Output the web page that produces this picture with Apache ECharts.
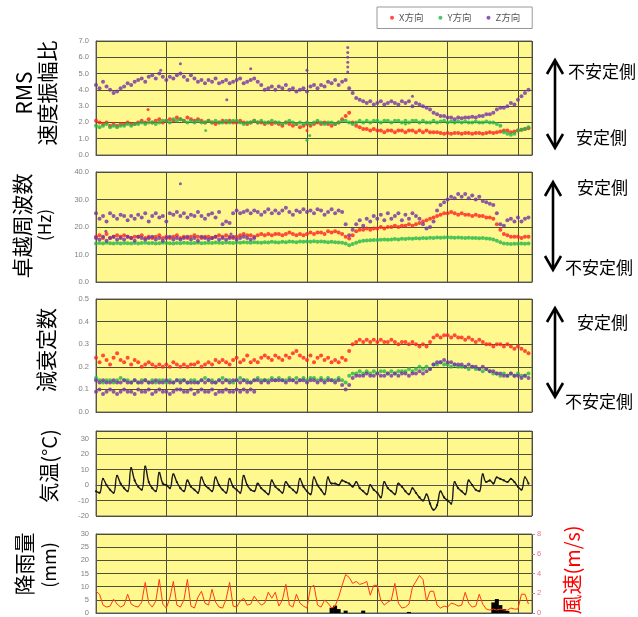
<!DOCTYPE html>
<html><head><meta charset="utf-8">
<script src="https://cdn.jsdelivr.net/npm/echarts@6.0.0/dist/echarts.min.js"></script>
<style>html,body{margin:0;padding:0;background:#fff}#c{width:638px;height:617px}</style>
</head><body><div id="c"></div>
<script>
// 4 samples per day, 31 days (index i -> day i/4)
const seriesNames = ['X方向', 'Y方向', 'Z方向'];

const rmsX = [
2.1,2.0,1.9,2.0, 1.8,1.9,1.8,1.9, 1.9,2.0,1.9,1.9, 2.0,2.1,2.0,2.2, 2.0,2.1,2.2,2.0,
2.1,2.2,2.1,2.3, 2.2,2.1,2.3,2.2, 2.1,2.2,2.1,2.0, 2.1,2.0,1.9,2.0, 2.1,2.0,2.1,2.0,
2.0,2.1,2.0,1.9, 2.0,2.1,2.0,2.0, 1.9,2.0,1.9,2.0, 1.9,1.8,2.0,1.9, 1.8,1.9,1.7,1.8,
1.9,1.8,1.9,2.0, 1.9,2.0,1.9,1.8, 1.9,2.0,2.2,2.4, 2.6,2.0,1.8,1.7, 1.6,1.6,1.5,1.6,
1.5,1.5,1.4,1.5, 1.5,1.4,1.5,1.5, 1.4,1.5,1.5,1.4, 1.5,1.4,1.5,1.4, 1.4,1.4,1.35,1.3,
1.35,1.3,1.35,1.35, 1.3,1.35,1.35,1.3, 1.35,1.35,1.3,1.35, 1.4,1.35,1.4,1.45, 1.5,1.5,1.4,1.45,
1.5,1.55,1.6,1.65];
const rmsY = [
1.8,1.7,1.8,1.9, 1.7,1.8,1.7,1.8, 1.8,1.9,1.8,1.9, 1.9,2.0,1.9,2.0, 2.0,1.9,2.0,2.1,
2.1,2.0,2.2,2.1, 2.2,2.1,2.0,2.1, 2.0,2.1,2.0,2.0, 2.1,2.0,2.1,2.0, 2.0,2.1,2.0,2.1,
2.1,2.0,1.9,2.0, 2.0,2.1,2.0,2.1, 2.0,2.0,2.1,2.0, 2.0,1.9,2.0,2.1, 2.0,1.9,2.0,1.9,
2.0,1.9,2.0,2.1, 2.0,1.9,2.0,2.0, 1.9,2.0,2.1,2.1, 2.0,1.9,2.0,2.1, 2.0,2.1,2.0,2.1,
2.1,2.0,2.1,2.1, 2.0,2.1,2.1,2.0, 2.1,2.0,2.1,2.1, 2.0,2.1,2.0,2.0, 2.1,2.0,2.05,2.1,
2.0,2.05,2.0,2.05, 2.0,2.05,2.0,2.0, 2.05,2.0,2.0,2.05, 2.0,2.0,1.9,1.8, 1.4,1.3,1.25,1.3,
1.5,1.55,1.6,1.7];
const rmsZ = [
4.3,4.1,4.5,4.2, 4.0,3.8,3.9,4.1, 4.2,4.4,4.3,4.5, 4.6,4.7,4.5,4.8, 4.9,4.7,5.0,4.8,
4.6,4.8,4.7,4.9, 5.0,4.8,4.6,4.9, 4.7,4.5,4.6,4.4, 4.6,4.5,4.7,4.4, 4.5,4.6,4.4,4.5,
4.6,4.7,4.4,4.5, 4.6,4.7,4.5,4.3, 4.0,4.1,4.2,4.0, 4.2,4.1,4.3,4.0, 4.1,3.9,4.0,4.1,
3.9,4.2,4.3,4.1, 4.3,4.2,4.5,4.4, 4.6,4.3,4.5,4.6, 4.1,3.8,3.5,3.4, 3.3,3.2,3.3,3.1,
3.2,3.3,3.1,3.2, 3.3,3.2,3.1,3.3, 3.2,3.3,3.0,3.2, 3.1,3.0,2.9,2.8, 2.6,2.5,2.4,2.4,
2.3,2.3,2.2,2.3, 2.25,2.3,2.3,2.35, 2.3,2.4,2.4,2.5, 2.5,2.6,2.8,2.9, 2.9,3.0,3.2,3.1,
3.4,3.6,3.8,4.0];
const rmsZExtra = [[15,5.2],[17.9,6.6],[17.9,6.3],[17.9,6.0],[17.9,5.7],[17.9,5.4],[17.9,5.1],[6.0,5.6],[9.3,3.4],[22.5,3.6],[11,5.3],[4.6,5.2]];
const rmsXExtra = [[3.7,2.8],[15,1.5]];
const rmsYExtra = [[15,0.9],[7.8,1.5],[15.2,1.2],[22,1.9]];

const freqX = [
16.5,17,16,17.5, 16,16.5,17,16.5, 17,16.5,16,16.5, 16.5,17,16,16.5, 16,16.5,17,16,
16.5,16,16.5,17, 16,16.5,16,16.5, 17,16.5,16,16.5, 16.5,16,16.5,17, 16.5,17,16.5,16,
16.5,17,17.5,17, 17,16.5,17,17.5, 17,17.5,17,17.5, 17.5,17,17.5,18, 17.5,17,17.5,17,
17.5,18,17.5,18, 18,17.5,18.5,18, 18.5,18,17.5,16.5, 15.8,17,18.5,19, 19,19.5,19,19.5,
19.5,20,19.5,20, 20,20.5,20,20.5, 20.5,21,20.5,21, 21.5,22,22.5,23, 23.5,24,24.5,25,
25,25.5,25,24.5, 25,24.5,24.5,24, 24.5,24,24,23.5, 23.5,23,21,19, 17.5,17,16.5,16.5,
16.5,16,16.5,16.5];
const freqY = [
14,14.2,14,14.3, 14.1,14,14.2,14, 14.2,14.1,14,14.2, 14,14.2,14.3,14.1, 14.2,14,14.1,14.3,
14.2,14.1,14,14.2, 14.1,14.3,14.2,14.1, 14.2,14.3,14.1,14.2, 14.3,14.2,14.4,14.3, 14.2,14.4,14.3,14.2,
14.4,14.3,14.5,14.4, 14.3,14.5,14.4,14.3, 14.5,14.4,14.6,14.5, 14.4,14.6,14.5,14.7, 14.6,14.5,14.7,14.6,
14.7,14.6,14.8,14.6, 14.7,14.6,14.5,14.6, 14.5,14.4,14.3,14.0, 13.4,13.8,14.3,14.7, 15.0,15.1,15.2,15.3,
15.3,15.4,15.5,15.4, 15.5,15.6,15.5,15.7, 15.6,15.8,15.7,15.9, 15.8,16.0,15.9,16.1, 16.0,16.2,16.1,16.2,
16.3,16.2,16.1,16.2, 16.1,16.0,16.1,16.0, 16.0,15.9,16.0,15.8, 15.7,15.5,15.0,14.5, 14.0,13.9,13.8,13.9,
13.9,14.0,13.9,14.0];
const freqZ = [
25,23,24,22, 25,24,23,24.5, 24,22.5,24,23, 24.5,23.5,25,22, 24,25,23.5,24,
22,25,24.5,25.5, 24,25,23.5,24.5, 24,25.5,24,23, 24.5,25,23.5,25.5, 21,22,21.5,25,
26,25,25.5,26, 25,26,25.5,24.5, 25.5,26.5,25,26, 25,26,27,25.5, 24.5,26,25.5,26.5,
25.5,26,25,26.5, 26,24.5,25.5,26.5, 25,26,25.5,21, 17,19,21,22.5, 20.5,23,22,24,
23,24.5,22.5,25, 23,24,25,22.5, 24.5,23,25,24, 23,21,19.5,20, 22,26,28,29,
30,31,30.5,32, 31,32,30.5,31.5, 30,31,29.5,29, 28.5,28,25,21, 20.5,22.5,23,22,
23.5,22,23,23.5];
// lower Z band (days 0 - 11.25)
const freqZLow = [16,15.5,16.5,15, 16,16.5,15.5,16, 15.5,16.5,16,15, 16.5,16,15.5,16, 16.5,15.5,16,15,
16,16.5,15.5,16, 15.5,16,16.5,15.5, 16,15,16.5,16, 15.5,16,16.5,15.5, 16,15.5,16,16.5, 15.5,16,16.5,16, 15.5,16];
const freqZExtra = [[6.0,35.7],[0.7,18.5],[9.6,17.5]];

const dampX = [
0.24,0.22,0.25,0.23, 0.21,0.24,0.26,0.23, 0.22,0.24,0.21,0.23, 0.22,0.20,0.21,0.22, 0.21,0.20,0.21,0.20,
0.21,0.20,0.22,0.21, 0.20,0.21,0.20,0.21, 0.21,0.22,0.20,0.21, 0.22,0.21,0.23,0.22, 0.23,0.22,0.21,0.23,
0.24,0.22,0.23,0.25, 0.22,0.23,0.22,0.24, 0.25,0.24,0.23,0.25, 0.24,0.23,0.25,0.24, 0.26,0.27,0.25,0.24,
0.23,0.25,0.22,0.24, 0.25,0.23,0.24,0.22, 0.23,0.22,0.24,0.23, 0.27,0.30,0.31,0.32, 0.31,0.32,0.31,0.32,
0.31,0.32,0.31,0.31, 0.32,0.31,0.30,0.31, 0.31,0.30,0.31,0.30, 0.29,0.30,0.29,0.31, 0.33,0.34,0.33,0.34,
0.34,0.33,0.34,0.33, 0.33,0.32,0.33,0.32, 0.31,0.32,0.31,0.30, 0.30,0.29,0.30,0.30, 0.29,0.30,0.29,0.28,
0.29,0.28,0.27,0.26];
const dampY = [
0.15,0.14,0.13,0.14, 0.14,0.13,0.14,0.15, 0.14,0.14,0.13,0.14, 0.13,0.14,0.14,0.13, 0.14,0.13,0.14,0.14,
0.13,0.14,0.13,0.14, 0.14,0.14,0.13,0.14, 0.14,0.13,0.14,0.15, 0.14,0.14,0.13,0.14, 0.15,0.14,0.14,0.13,
0.14,0.15,0.14,0.14, 0.13,0.14,0.15,0.14, 0.14,0.14,0.15,0.14, 0.15,0.14,0.14,0.15, 0.14,0.15,0.14,0.15,
0.14,0.15,0.15,0.14, 0.15,0.14,0.15,0.14, 0.14,0.15,0.14,0.13, 0.16,0.17,0.17,0.18, 0.17,0.18,0.17,0.18,
0.17,0.18,0.18,0.17, 0.18,0.17,0.18,0.18, 0.18,0.19,0.18,0.19, 0.20,0.19,0.20,0.19, 0.21,0.21,0.22,0.21,
0.21,0.20,0.21,0.20, 0.20,0.20,0.19,0.20, 0.19,0.19,0.18,0.19, 0.18,0.17,0.17,0.16, 0.17,0.16,0.17,0.16,
0.17,0.16,0.16,0.17];
const dampZ = [
0.14,0.13,0.14,0.13, 0.13,0.14,0.13,0.13, 0.14,0.13,0.13,0.14, 0.13,0.13,0.14,0.13, 0.13,0.14,0.13,0.13,
0.14,0.13,0.13,0.14, 0.13,0.14,0.13,0.13, 0.13,0.13,0.14,0.13, 0.14,0.13,0.13,0.14, 0.13,0.14,0.13,0.14,
0.14,0.13,0.14,0.13, 0.13,0.14,0.14,0.13, 0.14,0.13,0.14,0.14, 0.14,0.14,0.13,0.14, 0.14,0.13,0.14,0.14,
0.13,0.14,0.14,0.13, 0.14,0.13,0.14,0.14, 0.13,0.14,0.12,0.10, 0.12,0.15,0.16,0.16, 0.16,0.17,0.16,0.16,
0.17,0.16,0.16,0.17, 0.16,0.17,0.16,0.17, 0.17,0.16,0.17,0.17, 0.18,0.17,0.18,0.19, 0.21,0.22,0.22,0.23,
0.22,0.22,0.21,0.21, 0.21,0.20,0.21,0.20, 0.20,0.19,0.20,0.19, 0.18,0.18,0.17,0.17, 0.16,0.16,0.17,0.16,
0.16,0.15,0.16,0.15];
const dampZLow = [0.09,0.10,0.08,0.09, 0.10,0.09,0.08,0.09, 0.10,0.09,0.09,0.08, 0.10,0.09,0.09,0.10, 0.08,0.09,0.10,0.09,
0.09,0.08,0.09,0.10, 0.10,0.09,0.09,0.10, 0.08,0.09,0.10,0.09, 0.09,0.10,0.08,0.09, 0.09,0.10,0.09,0.09, 0.10,0.09,0.10,0.09, 0.10,0.09];

const temperature = [
-4,-5,4,0, -3,-5,6,1, -2,-4,11,3, -1,-3,12,2, -2,-4,8,1,
0,-2,7,2, -2,-4,3,-1, -3,-5,5,0, -2,-4,5,0, -3,-5,4,-1,
-3,-5,6,0, -3,-4,1,-2, -4,-6,3,-1, -3,-5,2,-1, -3,-5,4,-1,
-4,-6,5,0, -3,-6,5,1, 1,0,3,2, 1,-1,2,-2, -4,-6,0,-3,
-5,-8,2,-2, -4,-6,1,-1, -4,-6,-2,-5, -8,-10,-6,-12, -16,-13,-4,-8,
-10,-12,2,-2, -4,-6,3,0, -3,-4,7,2, 3,1,5,4, 3,2,4,2,
-1,-3,5,1];

const windSpeed = [
2.2,1.9,0.8,0.6, 0.7,1.4,0.9,0.6, 0.8,1.9,0.9,0.7, 0.6,1.1,3.1,1.0, 0.6,1.2,3.4,0.9,
0.5,1.5,3.2,0.8, 0.6,1.3,3.4,0.7, 0.5,1.6,2.2,1.0, 0.8,2.4,1.1,0.6, 0.5,1.4,3.1,0.7,
0.6,1.2,1.5,0.8, 0.9,1.7,1.2,0.8, 1.0,2.1,1.5,2.1, 0.7,1.3,2.9,0.8, 0.6,1.9,1.0,0.7,
0.5,2.6,2.8,0.8, 0.6,1.3,1.0,0.5, 0.7,1.6,2.8,3.9, 3.6,3.0,3.2,2.9, 3.0,3.2,1.8,2.8,
2.8,1.3,0.8,1.1, 1.3,3.0,1.0,0.5, 0.6,0.9,2.6,3.2, 3.8,3.4,1.2,2.2, 2.2,0.8,0.5,0.7,
0.6,1.0,0.9,0.7, 0.8,2.1,1.0,0.6, 0.7,1.9,0.9,0.4, 0.3,0.4,0.3,0.4, 0.3,0.3,0.5,0.4,
0.4,1.9,1.9,0.9];

const rainfall = [
0,0,0,0, 0,0,0,0, 0,0,0,0, 0,0,0,0, 0,0,0,0,
0,0,0,0, 0,0,0,0, 0,0,0,0, 0,0,0,0, 0,0,0,0,
0,0,0,0, 0,0,0,0, 0,0,0,0, 0,0,0,0, 0,0,0,0,
0,0,0,0, 0,0,0,2.0, 2.8,1.5,0,0.9, 0,0,0,0, 0.9,0,0,0,
0,0,0,0, 0,0,0,0, 0,0.4,0,0, 0,0,0,0, 0,0,0,0,
0,0,0,0, 0,0,0,0, 0,0,0,0, 0,4.0,5.3,3.0, 1.5,0.8,0,0,
0,0,0,0];

const rmsTicks = {min: 0, max: 7, interval: 1};
const freqTicks = {min: 0, max: 40, interval: 10};
const dampTicks = {min: 0, max: 0.5, interval: 0.1};
const tempTicks = {min: -20, max: 35, interval: 10};
const rainTicks = {min: 0, max: 30, interval: 5};
const windTicks = {min: 0, max: 8, interval: 2};

// ---------- build ----------
const C_X = '#FF1F1F', C_Y = '#20B848', C_Z = '#7232A8';
const GRID_LINE = '#4f4f36';
const BG = '#FFF88E';
const toPairs = (arr, start) => arr.map((v, i) => [(start || 0) + i / 4, v]);

const gridPos = [
  {left: 96, top: 41, width: 436, height: 114},
  {left: 96, top: 172, width: 436, height: 110},
  {left: 96, top: 299, width: 436, height: 113},
  {left: 96, top: 431, width: 436, height: 85},
  {left: 96, top: 534, width: 436, height: 80}
];
const grids = gridPos.map(g => Object.assign({show: true, backgroundColor: BG, borderColor: '#666', borderWidth: 1}, g));

const xAxes = gridPos.map((g, i) => ({
  type: 'value', gridIndex: i, min: 0, max: 31, interval: 5,
  axisLabel: {show: false}, axisTick: {show: false},
  axisLine: {show: true, lineStyle: {color: '#555'}},
  splitLine: {show: true, lineStyle: {color: GRID_LINE, width: 1}}
}));

const labelStyle = {fontSize: 7.5, color: '#808080', fontFamily: 'Liberation Sans', margin: 7};
function yAx(idx, t, fmt, extra) {
  return Object.assign({
    type: 'value', gridIndex: idx, min: t.min, max: t.max, interval: t.interval,
    axisLine: {show: true, lineStyle: {color: '#555'}}, axisTick: {show: false},
    axisLabel: Object.assign({formatter: fmt}, labelStyle),
    splitLine: {show: true, lineStyle: {color: GRID_LINE, width: 1}}
  }, extra || {});
}
const yAxes = [
  yAx(0, rmsTicks, v => v.toFixed(1)),
  yAx(1, freqTicks, v => v.toFixed(1)),
  yAx(2, dampTicks, v => v.toFixed(1)),
  yAx(3, tempTicks, v => v > 30 ? '' : String(v)),
  yAx(4, rainTicks, v => String(v)),
  {type: 'value', gridIndex: 4, position: 'right', min: windTicks.min, max: windTicks.max, interval: windTicks.interval,
   axisLine: {show: false}, axisTick: {show: true, length: 3, inside: false, lineStyle: {color: '#999'}},
   splitLine: {show: false},
   axisLabel: {fontSize: 7.5, color: '#E8708A', fontFamily: 'Liberation Sans', margin: 5}}
];

function sc(name, color, data, gi, size) {
  return {type: 'scatter', name: name, xAxisIndex: gi, yAxisIndex: gi, data: data,
    symbol: 'circle', symbolSize: size || 4, itemStyle: {color: color}, silent: true};
}
const series = [
  sc('X方向', C_X, toPairs(rmsX), 0), sc('X方向', C_X, rmsXExtra, 0, 3),
  sc('Y方向', C_Y, toPairs(rmsY), 0), sc('Y方向', C_Y, rmsYExtra, 0, 3),
  sc('Z方向', C_Z, toPairs(rmsZ), 0), sc('Z方向', C_Z, rmsZExtra, 0, 3),
  sc('X方向', C_X, toPairs(freqX), 1),
  sc('Y方向', C_Y, toPairs(freqY), 1),
  sc('Z方向', C_Z, toPairs(freqZ), 1), sc('Z方向', C_Z, toPairs(freqZLow), 1), sc('Z方向', C_Z, freqZExtra, 1, 3),
  sc('X方向', C_X, toPairs(dampX), 2),
  sc('Y方向', C_Y, toPairs(dampY), 2),
  sc('Z方向', C_Z, toPairs(dampZ), 2), sc('Z方向', C_Z, toPairs(dampZLow), 2),
  {type: 'line', name: '気温', xAxisIndex: 3, yAxisIndex: 3, data: toPairs(temperature), smooth: 0.45,
   symbol: 'circle', symbolSize: 2.2, showSymbol: true, itemStyle: {color: '#1a1a1a'}, lineStyle: {color: '#1a1a1a', width: 1.4}, silent: true},
  {type: 'line', name: '風速', xAxisIndex: 4, yAxisIndex: 5, data: toPairs(windSpeed),
   symbol: 'none', lineStyle: {color: '#FF3A10', width: 1}, silent: true},
  {type: 'bar', name: '降雨量', xAxisIndex: 4, yAxisIndex: 4, data: toPairs(rainfall),
   barWidth: 4, itemStyle: {color: '#000'}, silent: true}
];

const F = '"Noto Sans CJK JP", "Noto Sans", sans-serif';
function vText(text, x, y, size, color) {
  return {type: 'text', x: x, y: y, rotation: Math.PI / 2, silent: true,
    style: {text: text, font: size + 'px ' + F, fill: color || '#000',
      textAlign: 'center', textVerticalAlign: 'middle', align: 'center', verticalAlign: 'middle'}};
}
function hText(text, x, y) {
  return {type: 'text', x: x, y: y, silent: true,
    style: {text: text, font: '17px ' + F, fill: '#000', textAlign: 'left', textVerticalAlign: 'middle', align: 'left', verticalAlign: 'middle'}};
}
function arrow(x, y1, y2) {
  const hw = 8, hh = 14, st = {stroke: '#000', lineWidth: 2.6, fill: null};
  return [
    {type: 'polyline', silent: true, shape: {points: [[x, y1 + 1], [x, y2 - 1]]}, style: st},
    {type: 'polyline', silent: true, shape: {points: [[x - hw, y1 + hh], [x, y1], [x + hw, y1 + hh]]}, style: st},
    {type: 'polyline', silent: true, shape: {points: [[x - hw, y2 - hh], [x, y2], [x + hw, y2 - hh]]}, style: st}
  ];
}
const graphics = [
  vText('RMS', 24, 93, 21), vText('速度振幅比', 47, 93, 21),
  vText('卓越周波数', 22, 226, 21), vText('(Hz)', 45, 225, 17),
  vText('減衰定数', 46, 350, 21),
  vText('気温(°C)', 49, 466, 20),
  vText('降雨量', 24, 564, 21), vText('(mm)', 49, 565, 18),
  vText('風速(m/s)', 572, 570, 20, '#FF0000'),
  ...arrow(555, 60, 148), hText('不安定側', 568, 72), hText('安定側', 576, 138),
  ...arrow(553, 182, 270), hText('安定側', 577, 188), hText('不安定側', 565, 268),
  ...arrow(555, 308, 397), hText('安定側', 577, 323), hText('不安定側', 565, 402)
];

const chart = echarts.init(document.getElementById('c'), null, {renderer: 'canvas'});
chart.setOption({
  animation: false,
  backgroundColor: '#fff',
  legend: {
    data: seriesNames, left: 377, top: 7, orient: 'horizontal',
    icon: 'circle', itemWidth: 4, itemHeight: 4, itemGap: 15,
    padding: [6, 12, 6, 13], borderColor: '#999', borderWidth: 1,
    textStyle: {fontSize: 9.5, color: '#555', fontFamily: F},
    selectedMode: false
  },
  grid: grids, xAxis: xAxes, yAxis: yAxes, series: series, graphic: graphics
});
</script></body></html>
